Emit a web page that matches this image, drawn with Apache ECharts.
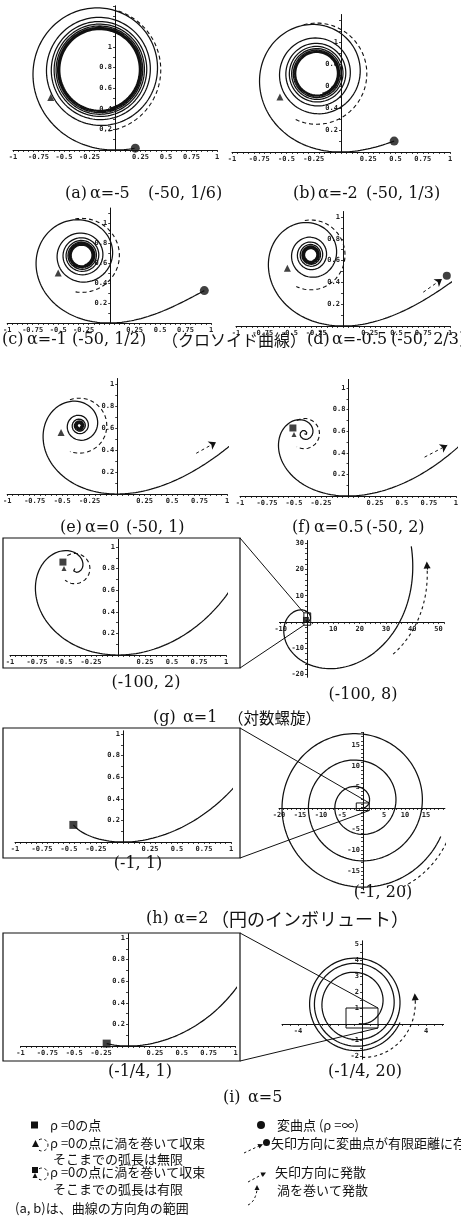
<!DOCTYPE html>
<html>
<head>
<meta charset="utf-8">
<script src="https://cdn.jsdelivr.net/npm/echarts@6/dist/echarts.min.js"></script>
<style>
  html, body { margin: 0; padding: 0; background: #fff; }
  #chart { width: 461px; height: 1231px; }
</style>
</head>
<body>
<div id="chart"></div>
<script>
// Log-aesthetic curves: radius of curvature rho(theta) = ((alpha-1)theta + 1)^(1/(alpha-1)),
// the log spiral (alpha = 1) uses rho = exp(rate * theta). Each curve passes through the
// origin at theta = 0 and runs over the direction-angle range (a, b).
const panelKeys   = ['a', 'b', 'c', 'd', 'e', 'f', 'g', 'gOuter', 'h', 'hOuter', 'i', 'iOuter'];
const alphaValues = [-5, -2, -1, -0.5, 0, 0.5, 1, 1, 2, 2, 5, 5];
const angleFrom   = [-50, -50, -50, -50, -50, -50, -100, -100, -1, -1, -1 / 4, -1 / 4];
const angleTo     = [1 / 6, 1 / 3, 1 / 2, 2 / 3, 1, 2, 2, 8, 1, 20, 1, 20];
const logSpiralRate = 0.5;

const innerXLabels = [-1, -0.75, -0.5, -0.25, 0.25, 0.5, 0.75, 1];
const innerYLabels = [0.2, 0.4, 0.6, 0.8, 1];
const outerXLabels = { gOuter: [-10, 10, 20, 30, 40, 50], hOuter: [-20, -15, -10, -5, 5, 10, 15], iOuter: [-4, 4] };
const outerYLabels = { gOuter: [-20, -10, 10, 20, 30], hOuter: [-15, -10, -5, 5, 10, 15], iOuter: [-2, -1, 1, 2, 3, 4, 5] };

const captionTexts = [
  ['(a)', 'α=-5', '(-50, 1/6)'],
  ['(b)', 'α=-2', '(-50, 1/3)'],
  ['(c)', 'α=-1', '(-50, 1/2)', '（クロソイド曲線）'],
  ['(d)', 'α=-0.5', '(-50, 2/3)'],
  ['(e)', 'α=0', '(-50, 1)'],
  ['(f)', 'α=0.5', '(-50, 2)'],
  ['(-100, 2)'], ['(-100, 8)'],
  ['(g)', 'α=1', '（対数螺旋）'],
  ['(-1, 1)'], ['(-1, 20)'],
  ['(h)', 'α=2', '（円のインボリュート）'],
  ['(-1/4, 1)'], ['(-1/4, 20)'],
  ['(i)', 'α=5']
];

const legendLeftTexts  = ['ρ =0の点', 'ρ =0の点に渦を巻いて収束', 'そこまでの弧長は無限', 'ρ =0の点に渦を巻いて収束', 'そこまでの弧長は有限'];
const legendRightTexts = ['変曲点 (ρ =∞)', '矢印方向に変曲点が有限距離に存在', '矢印方向に発散', '渦を巻いて発散'];
const rangeNote = '(a, b)は、曲線の方向角の範囲';

// ---------- layout (pixel boxes of each plot) ----------
const layout = {
  a:      { left: 13,    top: 5.8,   width: 204,   height: 144.2, x: [-1, 1],      y: [0, 1.4] },
  b:      { left: 232,   top: 14.5,  width: 218,   height: 137.5, x: [-1, 1],      y: [0, 1.25] },
  c:      { left: 5,     top: 208,   width: 206,   height: 115,   x: [-1, 1],      y: [0, 1.15] },
  d:      { left: 236,   top: 211.5, width: 214,   height: 114.5, x: [-1, 1],      y: [0, 1.05] },
  e:      { left: 7,     top: 378.5, width: 220,   height: 115.5, x: [-1, 1],      y: [0, 1.05] },
  f:      { left: 240,   top: 379.4, width: 217,   height: 116.6, x: [-1, 1],      y: [0, 1.08] },
  g:      { left: 10,    top: 539.4, width: 216,   height: 115.6, x: [-1, 1],      y: [0, 1.07] },
  gOuter: { left: 279.4, top: 540.5, width: 164.4, height: 136.8, x: [-10.5, 52],  y: [-21, 31] },
  h:      { left: 15,    top: 730.8, width: 216,   height: 111.2, x: [-1, 1],      y: [0, 1.03] },
  hOuter: { left: 279,   top: 732.4, width: 165.9, height: 157.5, x: [-20, 19.5],  y: [-19.5, 18] },
  i:      { left: 20.5,  top: 933.7, width: 215,   height: 112.3, x: [-1, 1],      y: [0, 1.04] },
  iOuter: { left: 282,   top: 940.8, width: 161.6, height: 118.4, x: [-5, 5.1],    y: [-2.2, 5.2] }
};
const tickStep = { gOuter: 2, hOuter: 1, iOuter: 0.5 };

// caption placement: middle y, left x of each part (or centre x)
const captionPlaces = [
  { y: 194, x: [65, 90, 148] },
  { y: 194, x: [293, 318, 366] },
  { y: 340, x: [2, 27, 72, 162], cjk: 16 },
  { y: 340, x: [307, 332, 391] },
  { y: 528, x: [60, 85, 126] },
  { y: 528, x: [292, 314, 366] },
  { y: 683, cx: 146 }, { y: 695, cx: 363 },
  { y: 718, x: [153, 183, 228], cjk: 15.5 },
  { y: 864, cx: 138 }, { y: 893, cx: 383 },
  { y: 919, x: [146, 174, 211], cjk: 18 },
  { y: 1072, cx: 140 }, { y: 1072, cx: 365 },
  { y: 1098, x: [223, 248] }
];

// annotation marks per plot (data coordinates)
const notes = {
  a: { tri: [-0.63, 0.51], ring: { r: 0.6, a0: 72, a1: -85 }, dotAtEnd: true },
  b: { tri: [-0.56, 0.5], ring: { r: 0.46, a0: 105, a1: -115 }, dotAtEnd: true },
  c: { tri: [-0.5, 0.5], ring: { r: 0.37, a0: 100, a1: -100 }, dotAtEnd: true },
  d: { tri: [-0.52, 0.53], ring: { r: 0.32, a0: 100, a1: -115 }, dot: [0.97, 0.46], dash: [[0.75, 0.31], [0.925, 0.43]] },
  e: { tri: [-0.51, 0.56], ring: { r: 0.25, a0: 110, a1: -110 }, dash: [[0.72, 0.37], [0.9, 0.47]] },
  f: { fin: [-0.51, 0.63], ring: { r: 0.14, a0: 120, a1: -120 }, dash: [[0.71, 0.36], [0.92, 0.47]] },
  g: { fin: [-0.51, 0.86], ring: { r: 0.14, a0: 120, a1: -130 } },
  gOuter: { blob: true, box: [-1.2, -1.2, 1.4, 3.5], sweep: { cx: -0.4, cy: 0.8, r0: 35.6, r1: 50.5, a0: -21.4, a1: 24.4 } },
  h: { sqAtStart: true },
  hOuter: { box: [-1.6, -0.6, 1.5, 1.2], sweep: { cx: -1, cy: 1, r0: 22.4, r1: 23, a0: -62, a1: -5.5 } },
  i: { sqAtStart: true },
  iOuter: { box: [-1, -0.25, 1, 1], sweep: { cx: -0.3, cy: 0.9, r0: 3.0, r1: 3.7, a0: -84, a1: 12.5 } }
};

const INK = '#111';

// ---------- curve geometry ----------
function rhoOf(alpha, th) {
  if (alpha === 1) return Math.exp(logSpiralRate * th);
  const t = Math.max(0, 1 + (alpha - 1) * th);
  return Math.pow(t, 1 / (alpha - 1));
}
function arcOf(alpha, th) {
  if (alpha === 1) return (Math.exp(logSpiralRate * th) - 1) / logSpiralRate;
  if (alpha === 0) return -Math.log(1 - th);
  const t = Math.max(0, 1 + (alpha - 1) * th);
  return (Math.pow(t, alpha / (alpha - 1)) - 1) / alpha;
}
// integrate from theta = 0 toward thEnd, exact arc length per step
function walk(alpha, thEnd, stepAngle, stepArc, bounds) {
  const pts = [[0, 0, 0]];
  let th = 0, x = 0, y = 0, s = 0, guard = 0;
  const dir = thEnd < 0 ? -1 : 1;
  while (dir * (thEnd - th) > 1e-12 && guard++ < 300000) {
    const r = rhoOf(alpha, th);
    let d = Math.min(stepAngle, stepArc / Math.max(r, 1e-9));
    if (!(d > 1e-7)) d = 1e-7;
    let tn = th + dir * d;
    if (dir * (tn - thEnd) > 0) tn = thEnd;
    const sn = arcOf(alpha, tn);
    if (!isFinite(sn)) break;
    const mid = 0.5 * (th + tn);
    x += (sn - s) * Math.cos(mid);
    y += (sn - s) * Math.sin(mid);
    th = tn; s = sn;
    pts.push([x, y, th]);
    if (bounds && (x > bounds.xMax || x < bounds.xMin || y > bounds.yMax || y < bounds.yMin)) break;
  }
  return pts;
}
function traceCurve(alpha, a, b, stepArc, bounds) {
  const back = walk(alpha, a, 0.02, stepArc, null);
  const fwd = walk(alpha, b, 0.02, stepArc, bounds);
  // centre of the innermost turn
  const turn = back.filter(p => p[2] <= a + 2 * Math.PI);
  let cx = 0, cy = 0;
  turn.forEach(p => { cx += p[0]; cy += p[1]; });
  const centre = turn.length ? [cx / turn.length, cy / turn.length] : [0, 0];
  const points = back.slice().reverse().concat(fwd.slice(1)).map(p => [p[0], p[1]]);
  return { points, start: points[0], end: points[points.length - 1], centre };
}
function sweepPoints(cx, cy, r0, r1, a0, a1, n) {
  const out = [];
  for (let k = 0; k <= n; k++) {
    const f = k / n, a = (a0 + (a1 - a0) * f) * Math.PI / 180, r = r0 + (r1 - r0) * f;
    out.push([cx + r * Math.cos(a), cy + r * Math.sin(a)]);
  }
  return out;
}
function range(from, to, step) {
  const out = [];
  for (let v = from; v <= to + 1e-9; v += step) out.push(Math.round(v * 1000) / 1000);
  return out;
}

// ---------- build option ----------
const grids = [], xAxes = [], yAxes = [], series = [];
const tickFont = { fontSize: 7, fontWeight: 'bold', fontFamily: 'DejaVu Sans Mono', color: '#222' };

// axes cross at the origin: shift each axis (line, ticks and labels) onto the zero of the other
function axisOf(k, rng, labels, ticks, margin, offset) {
  return {
    type: 'value', gridIndex: k, min: rng[0], max: rng[1], offset: offset,
    axisLine: { show: true, onZero: false, lineStyle: { color: INK, width: 1 } },
    axisTick: { show: true, customValues: ticks, length: 2, lineStyle: { color: INK, width: 0.8 } },
    axisLabel: Object.assign({ show: true, customValues: labels, margin: margin, formatter: v => String(v) }, tickFont),
    splitLine: { show: false }
  };
}

panelKeys.forEach((key, k) => {
  const L = layout[key];
  const outer = key.endsWith('Outer');
  grids.push({ left: L.left, top: L.top, width: L.width, height: L.height });
  const xt = outer ? range(Math.ceil(L.x[0] / tickStep[key]) * tickStep[key], L.x[1], tickStep[key]) : range(-1, 1, 0.05);
  const yt = outer ? range(Math.ceil(L.y[0] / tickStep[key]) * tickStep[key], L.y[1], tickStep[key]) : range(0.1, L.y[1], 0.1);
  const xOff = -(0 - L.y[0]) / (L.y[1] - L.y[0]) * L.height;
  const yOff = -(0 - L.x[0]) / (L.x[1] - L.x[0]) * L.width;
  const xa = axisOf(k, L.x, outer ? outerXLabels[key] : innerXLabels, xt, 4, xOff);
  xa.position = 'bottom';
  const ya = axisOf(k, L.y, outer ? outerYLabels[key] : innerYLabels.filter(v => v <= L.y[1]), yt, 3, yOff);
  ya.position = 'left';
  xAxes.push(xa);
  yAxes.push(ya);

  const stepArc = (L.x[1] - L.x[0]) / 500;
  const bounds = outer ? null : { xMin: -1.3, xMax: 1.05, yMin: -0.3, yMax: L.y[1] + 0.3 };
  const tr = traceCurve(alphaValues[k], angleFrom[k], angleTo[k], stepArc, bounds);

  const base = { xAxisIndex: k, yAxisIndex: k, animation: false, silent: true };
  series.push(Object.assign({
    type: 'line', data: tr.points, symbol: 'none', showSymbol: false, clip: true, z: 3,
    lineStyle: { color: INK, width: 1.25 }
  }, base));

  const n = notes[key];
  const marks = [];
  if (n.ring) {
    series.push(Object.assign({
      type: 'line', data: sweepPoints(tr.centre[0], tr.centre[1], n.ring.r, n.ring.r, n.ring.a0, n.ring.a1, 60),
      symbol: 'none', showSymbol: false, z: 3, lineStyle: { color: INK, width: 1.1, type: [4, 3] }
    }, base));
  }
  if (n.tri) marks.push({ value: n.tri, symbol: 'triangle', symbolSize: [7, 7] });
  if (n.fin) {
    marks.push({ value: n.fin, symbol: 'rect', symbolSize: [7, 7] });
    marks.push({ value: [n.fin[0] + 0.01, n.fin[1] - 0.06], symbol: 'triangle', symbolSize: [5, 5] });
  }
  if (n.dotAtEnd) marks.push({ value: tr.end, symbol: 'circle', symbolSize: 9 });
  if (n.dot) marks.push({ value: n.dot, symbol: 'circle', symbolSize: 8 });
  if (n.sqAtStart) marks.push({ value: tr.start, symbol: 'rect', symbolSize: 8 });
  if (n.blob) marks.push({ value: tr.centre, symbol: 'rect', symbolSize: 6 });
  if (marks.length) {
    series.push(Object.assign({
      type: 'scatter', data: marks, z: 5, itemStyle: { color: INK }
    }, base));
  }
  if (n.dash) {
    series.push(Object.assign({
      type: 'lines', coordinateSystem: 'cartesian2d', z: 4,
      data: [{ coords: n.dash }], symbol: ['none', 'arrow'], symbolSize: 7,
      lineStyle: { color: INK, width: 1, type: [3, 3], opacity: 1 }
    }, base));
  }
  if (n.sweep) {
    const w = n.sweep;
    const pts = sweepPoints(w.cx, w.cy, w.r0, w.r1, w.a0, w.a1, 50);
    series.push(Object.assign({
      type: 'line', data: pts, symbol: 'none', showSymbol: false, z: 4,
      lineStyle: { color: INK, width: 1.1, type: [3, 3] }
    }, base));
    series.push(Object.assign({
      type: 'lines', coordinateSystem: 'cartesian2d', z: 4,
      data: [{ coords: [pts[pts.length - 3], pts[pts.length - 1]] }], symbol: ['none', 'triangle'], symbolSize: 7,
      lineStyle: { color: INK, width: 1, opacity: 1 }
    }, base));
  }
  if (n.box) {
    const bx = n.box;
    series.push(Object.assign({
      type: 'line', data: [[bx[0], bx[1]], [bx[2], bx[1]], [bx[2], bx[3]], [bx[0], bx[3]], [bx[0], bx[1]]],
      symbol: 'none', showSymbol: false, z: 4, lineStyle: { color: INK, width: 1 }
    }, base));
  }
});

const chart = echarts.init(document.getElementById('chart'), null, { renderer: 'canvas', width: 461, height: 1231 });
chart.setOption({
  backgroundColor: '#fff',
  animation: false,
  grid: grids, xAxis: xAxes, yAxis: yAxes, series: series
});

// ---------- frames, connectors, captions, key ----------
const g = [];
const serif = "'DejaVu Serif', serif";
const cjk = "'Noto Sans CJK JP', sans-serif";
function text(str, x, y, font, align) {
  g.push({ type: 'text', x: x, y: y, silent: true, style: { text: str, font: font, fill: INK, textAlign: align || 'left', textVerticalAlign: 'middle' } });
}
function seg(x1, y1, x2, y2, w, dash) {
  g.push({ type: 'line', silent: true, shape: { x1, y1, x2, y2 }, style: { stroke: INK, lineWidth: w || 1, lineDash: dash || null } });
}
function head(x1, y1, x2, y2, size) {
  const a = Math.atan2(y2 - y1, x2 - x1), s = size || 5;
  const p = [[x2, y2],
    [x2 - s * Math.cos(a) + s * 0.5 * Math.sin(a), y2 - s * Math.sin(a) - s * 0.5 * Math.cos(a)],
    [x2 - s * Math.cos(a) - s * 0.5 * Math.sin(a), y2 - s * Math.sin(a) + s * 0.5 * Math.cos(a)]];
  g.push({ type: 'polygon', silent: true, shape: { points: p }, style: { fill: INK } });
}
function px(key, pt) {
  return chart.convertToPixel({ gridIndex: panelKeys.indexOf(key) }, pt);
}

// inset frames and zoom connectors
const frames = { g: [3, 538, 240, 668], h: [3, 728, 240, 858], i: [3, 933, 240, 1061] };
Object.keys(frames).forEach(key => {
  const f = frames[key];
  g.push({ type: 'rect', silent: true, shape: { x: f[0], y: f[1], width: f[2] - f[0], height: f[3] - f[1] }, style: { fill: 'none', stroke: INK, lineWidth: 1.2 } });
  const bx = notes[key + 'Outer'].box;
  const side = key === 'g' ? bx[0] : bx[2];
  const top = px(key + 'Outer', [side, bx[3]]);
  const bot = px(key + 'Outer', [side, bx[1]]);
  seg(f[2], f[1], top[0], top[1], 1);
  seg(f[2], f[3], bot[0], bot[1], 1);
});

// captions
const capFont = '16px ' + serif;
captionTexts.forEach((parts, k) => {
  const place = captionPlaces[k];
  if (place.cx !== undefined) {
    text(parts.join(' '), place.cx, place.y, capFont, 'center');
    return;
  }
  parts.forEach((p, j) => {
    const isCjk = /[\u3000-\u9fff\uff00-\uffef]/.test(p);
    text(p, place.x[j], place.y, isCjk ? (place.cjk || 16) + 'px ' + cjk : capFont);
  });
});

// key: left column
const keyFont = '13px ' + cjk;
g.push({ type: 'rect', silent: true, shape: { x: 31, y: 1121.5, width: 7, height: 7 }, style: { fill: INK } });
text(legendLeftTexts[0], 50, 1125, keyFont);
g.push({ type: 'polygon', silent: true, shape: { points: [[32, 1147], [35.5, 1140], [39, 1147]] }, style: { fill: INK } });
g.push({ type: 'arc', silent: true, shape: { cx: 42, cy: 1145, r: 6, startAngle: -2.1, endAngle: 2.1, clockwise: true }, style: { fill: 'none', stroke: INK, lineWidth: 1, lineDash: [3, 2.5] } });
text(legendLeftTexts[1], 50, 1143, keyFont);
text(legendLeftTexts[2], 53, 1159, keyFont);
g.push({ type: 'rect', silent: true, shape: { x: 32, y: 1167, width: 6, height: 6 }, style: { fill: INK } });
g.push({ type: 'polygon', silent: true, shape: { points: [[32.5, 1178], [35, 1173], [37.5, 1178]] }, style: { fill: INK } });
g.push({ type: 'arc', silent: true, shape: { cx: 42, cy: 1174, r: 6, startAngle: -2.1, endAngle: 2.1, clockwise: true }, style: { fill: 'none', stroke: INK, lineWidth: 1, lineDash: [3, 2.5] } });
text(legendLeftTexts[3], 50, 1172, keyFont);
text(legendLeftTexts[4], 53, 1189, keyFont);
text(rangeNote, 15, 1208, keyFont);

// key: right column
g.push({ type: 'circle', silent: true, shape: { cx: 261, cy: 1125, r: 4 }, style: { fill: INK } });
text(legendRightTexts[0], 277, 1125, keyFont);
seg(244, 1153, 261, 1145, 1, [2.5, 2.5]);
head(255, 1148, 263, 1144.2, 5);
g.push({ type: 'circle', silent: true, shape: { cx: 266.5, cy: 1142.5, r: 3.5 }, style: { fill: INK } });
text(legendRightTexts[1], 271, 1143, keyFont);
seg(248, 1182, 264, 1173.5, 1, [2.5, 2.5]);
head(258, 1176.7, 266, 1172.4, 5);
text(legendRightTexts[2], 275, 1172, keyFont);
g.push({ type: 'bezierCurve', silent: true, shape: { x1: 248, y1: 1205, x2: 257, y2: 1190, cpx1: 255, cpy1: 1202 }, style: { fill: 'none', stroke: INK, lineWidth: 1, lineDash: [2.5, 2.5] } });
head(257, 1191, 257, 1185, 5);
text(legendRightTexts[3], 277, 1190, keyFont);

chart.setOption({ graphic: { elements: g } });
</script>
</body>
</html>
